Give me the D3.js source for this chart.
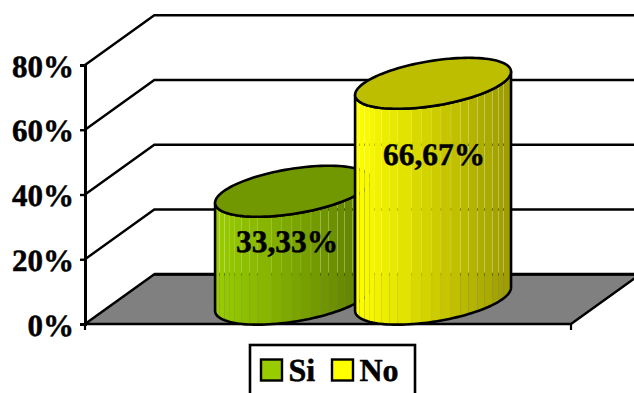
<!DOCTYPE html>
<html>
<head>
<meta charset="utf-8">
<script src="https://cdn.jsdelivr.net/npm/d3@7"></script>
<style>
html,body{margin:0;padding:0;background:#fff;overflow:hidden}
svg{display:block}
text{font-family:"Liberation Serif","Times New Roman",serif;font-weight:bold;fill:#000;stroke:#000;stroke-width:0.5px;text-rendering:geometricPrecision}
</style>
</head>
<body>
<script>
// Chart content
const series = ["Si", "No"];
const values = [33.33, 66.67];
const valueLabels = ["33,33%", "66,67%"];
const colours = ["#99cc00", "#ffff00"];
const tickValues = [0, 20, 40, 60, 80];

const width = 634, height = 393;
const svg = d3.select("body").append("svg").attr("width", width).attr("height", height);
const defs = svg.append("defs");

// Plot frame and the oblique depth vector of the 3D box
const y = d3.scaleLinear().domain([0, 80]).range([324, 65]);
const left = 85, right = 571;
const depth = {x: 69.3, y: -49.7};
const x = d3.scaleBand().domain(series).range([188.4, 468.4]);

// Floor
svg.append("path")
  .attr("d", d3.line()([
    [left, y(0)], [left + depth.x, y(0) + depth.y],
    [right + depth.x, y(0) + depth.y], [right, y(0)]
  ]) + "Z")
  .attr("fill", "#808080").attr("stroke", "#000").attr("stroke-width", 2.5)
  .attr("stroke-linejoin", "round");
svg.append("line")
  .attr("x1", left + depth.x).attr("x2", right + depth.x)
  .attr("y1", y(0) + depth.y).attr("y2", y(0) + depth.y)
  .attr("stroke", "#000").attr("stroke-width", 3);

// Wall gridlines with their diagonal returns to the axis
tickValues.slice(1).forEach(t => {
  svg.append("path")
    .attr("d", d3.line()([
      [left, y(t)], [left + depth.x, y(t) + depth.y], [right + depth.x, y(t) + depth.y]
    ]))
    .attr("fill", "none").attr("stroke", "#000").attr("stroke-width", 2.4);
});

// Cylinders: each base is a circle on the floor seen in oblique projection
const spanX = 69.4, spanDepth = 0.513;
const vec = {x: spanDepth * depth.x, y: spanDepth * depth.y};
const halfW = Math.hypot(spanX, vec.x);
const tRight = Math.atan2(vec.x, spanX);
const ellipsePoint = (cx, cy, t) => [
  cx + spanX * Math.cos(t) + vec.x * Math.sin(t),
  cy + vec.y * Math.sin(t)
];
const line = d3.line();

// Relative positions of the facets around the visible side, left to right
const facetStops = [0, 4.3, 9.3, 14, 19, 26.7, 34, 42.7, 56.7, 66.7, 76.7, 85.7, 95.7,
                    105, 113, 122, 129, 137, 143, 148, 155.6].map(d => d / 155.6);
const labelOffsets = [[-6, 36], [1, 57]];

series.forEach((name, i) => {
  const cx = x(name) + x.bandwidth() / 2 + depth.x / 2;
  const baseY = y(0) + depth.y / 2;
  const topY = baseY - (y(0) - y(values[i]));
  const lower = d3.range(0, 61).map(k => tRight + Math.PI + k / 60 * Math.PI);
  const outline = line([
    ...lower.map(t => ellipsePoint(cx, baseY, t)),
    ...lower.slice().reverse().map(t => ellipsePoint(cx, topY, t))
  ]) + "Z";

  const clipId = "body-" + i;
  defs.append("clipPath").attr("id", clipId).append("path").attr("d", outline);

  const shade = d3.scaleLinear().domain([0, 1])
    .range([colours[i], d3.rgb(colours[i]).darker(1.45).formatHex()]);
  const g = svg.append("g");
  g.append("g").attr("clip-path", `url(#${clipId})`)
    .selectAll("rect").data(d3.pairs(facetStops)).join("rect")
    .attr("x", d => cx - halfW + d[0] * 2 * halfW + 0.08)
    .attr("width", d => (d[1] - d[0]) * 2 * halfW - 0.16)
    .attr("y", topY - 30)
    .attr("height", baseY - topY + 60)
    .attr("fill", d => shade(d[0]));

  g.append("path").attr("d", outline).attr("fill", "none")
    .attr("stroke", "#000").attr("stroke-width", 2.6).attr("stroke-linejoin", "round");

  // Cap
  g.append("path")
    .attr("d", line(d3.range(0, 121).map(k => ellipsePoint(cx, topY, k / 120 * 2 * Math.PI))) + "Z")
    .attr("fill", d3.rgb(colours[i]).darker(0.83).formatHex())
    .attr("stroke", "#000").attr("stroke-width", 2.6);

  svg.append("text").attr("class", "value")
    .attr("x", cx + labelOffsets[i][0])
    .attr("y", y(values[i]) + labelOffsets[i][1])
    .attr("text-anchor", "middle").attr("font-size", 31.4)
    .text(valueLabels[i]);
});

// Value labels sit above both cylinders
svg.selectAll("text.value").raise();

// Vertical axis
const axis = svg.append("g").attr("transform", `translate(${left},0)`)
  .call(d3.axisLeft(y).tickValues(tickValues).tickFormat(d => d + "%").tickSize(5).tickPadding(6));
axis.select(".domain").attr("stroke", "#000").attr("stroke-width", 3);
axis.selectAll(".tick line").attr("stroke", "#000").attr("stroke-width", 2.4);
axis.selectAll(".tick text").attr("font-size", 31)
  .attr("font-family", '"Liberation Serif"').attr("dy", "0.36em").attr("fill", "#000");

// Category axis end ticks
[left, right].forEach(px => {
  svg.append("line").attr("x1", px).attr("x2", px)
    .attr("y1", y(0)).attr("y2", y(0) + 6)
    .attr("stroke", "#000").attr("stroke-width", 2.2);
});

// Legend
const legend = svg.append("g");
legend.append("rect")
  .attr("x", 250).attr("y", 345).attr("width", 165).attr("height", 60)
  .attr("fill", "#fff").attr("stroke", "#000").attr("stroke-width", 2.6);
const legendX = [261, 332];
series.forEach((name, i) => {
  legend.append("rect")
    .attr("x", legendX[i]).attr("y", 359.5).attr("width", 21).attr("height", 21)
    .attr("fill", colours[i]).attr("stroke", "#000").attr("stroke-width", 2.4);
  legend.append("text")
    .attr("x", legendX[i] + 27.5).attr("y", 381)
    .attr("font-size", 32).text(name);
});
</script>
</body>
</html>
